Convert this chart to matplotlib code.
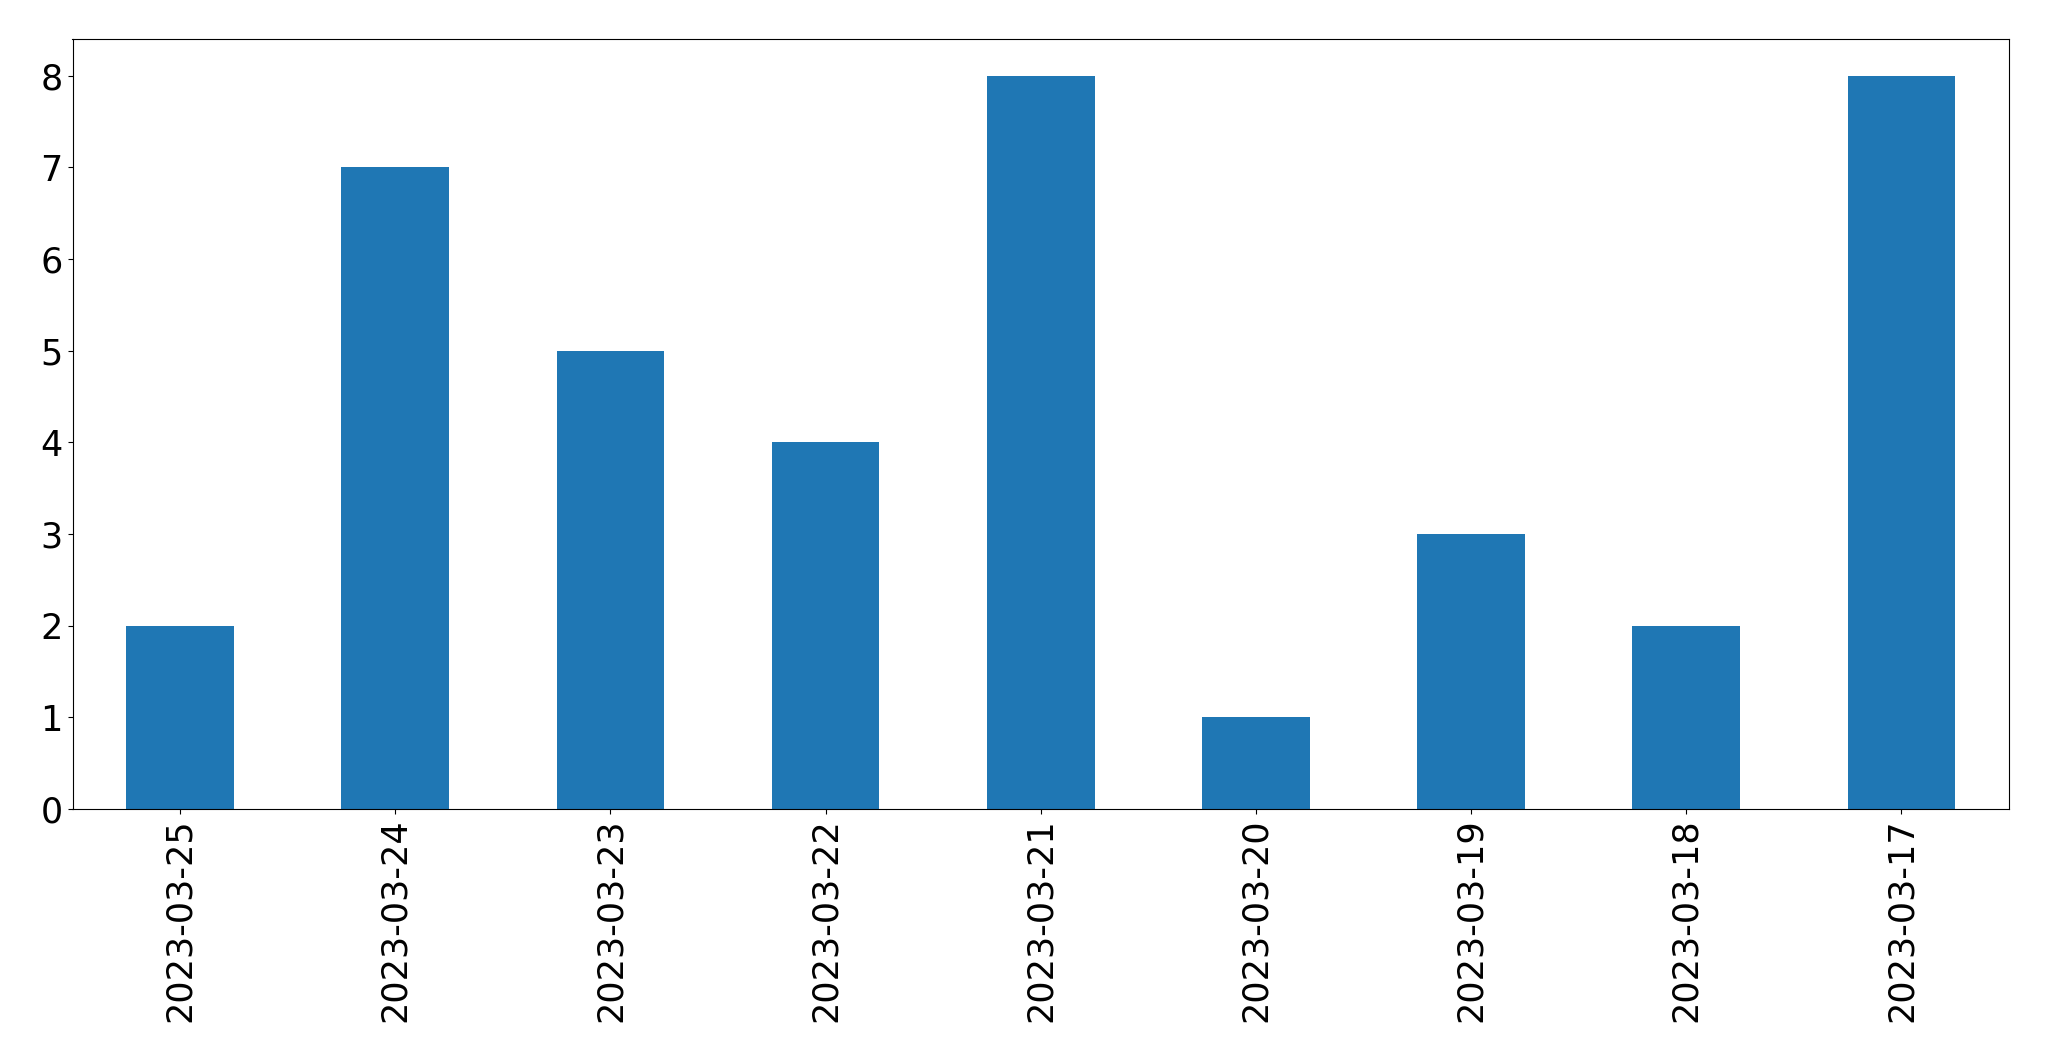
import matplotlib
matplotlib.use("Agg")
import matplotlib.pyplot as plt

dates = ["2023-03-25", "2023-03-24", "2023-03-23", "2023-03-22", "2023-03-21",
         "2023-03-20", "2023-03-19", "2023-03-18", "2023-03-17"]
counts = [2, 7, 5, 4, 8, 1, 3, 2, 8]

fig = plt.figure(figsize=(20.49, 10.61), dpi=100)
ax = fig.add_axes([72.5/2049, 1 - 809/1061, (2009-72.5)/2049, (809-39)/1061])
x = list(range(len(dates)))
ax.bar(x, counts, width=0.5, color="#1f77b4")
ax.set_xlim(-0.5, len(dates) - 0.5)
ax.set_ylim(0, max(counts) * 1.05)
ax.set_xticks(x)
ax.set_xticklabels(dates, rotation=90, fontsize=25.2)
ax.tick_params(axis="y", labelsize=25.2)
fig.savefig("out.png", dpi=100)
